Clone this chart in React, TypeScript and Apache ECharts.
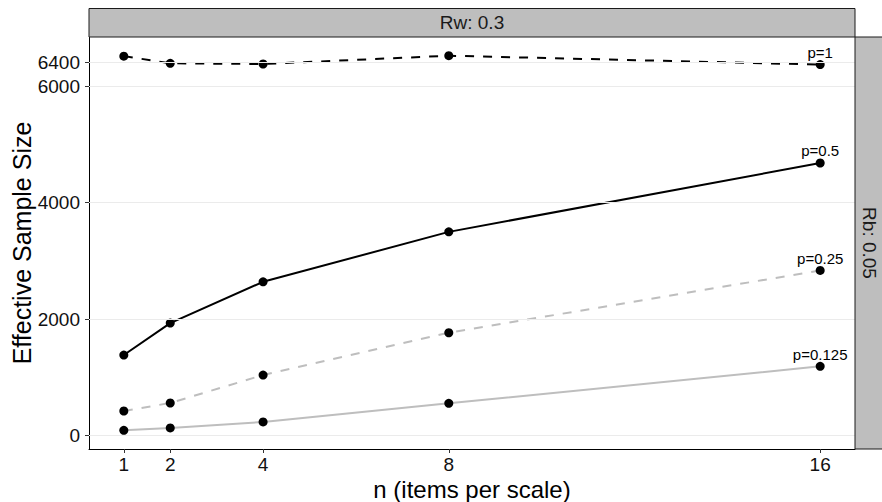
import React, { useEffect, useRef } from "react";
import * as echarts from "echarts";

const nValues = [1, 2, 4, 8, 16];
const pLabels = ["p=1", "p=0.5", "p=0.25", "p=0.125"];
const essP1 = [6513, 6390, 6378, 6520, 6368];
const essP05 = [1383, 1932, 2640, 3497, 4679];
const essP025 = [423, 560, 1040, 1766, 2835];
const essP0125 = [92, 132, 235, 555, 1189];
const yTicks = [0, 2000, 4000, 6000, 6400];
const xTicks = [1, 2, 4, 8, 16];
const stripTop = "Rw: 0.3";
const stripRight = "Rb: 0.05";
const xTitle = "n (items per scale)";
const yTitle = "Effective Sample Size";

const seriesValues = [essP1, essP05, essP025, essP0125];
const seriesStyles = [
  { color: "#000000", type: [9, 9] as any },
  { color: "#000000", type: "solid" as any },
  { color: "#bebebe", type: [9, 9] as any },
  { color: "#bebebe", type: "solid" as any },
];

const FONT = "Liberation Sans, Arial, Helvetica, sans-serif";

export default function App() {
  const ref = useRef<HTMLDivElement>(null);
  useEffect(() => {
    if (!ref.current) return;
    const chart = echarts.init(ref.current, undefined, { renderer: "svg" });

    const all = seriesValues.flat();
    const yMinD = Math.min(...all);
    const yMaxD = Math.max(...all);
    const yPad = (yMaxD - yMinD) * 0.05;
    const xMinD = Math.min(...nValues);
    const xMaxD = Math.max(...nValues);
    const xPad = (xMaxD - xMinD) * 0.05;

    const left = 89;
    const right = 27;
    const top = 37;
    const bottom = 53;
    const W = 882;
    const H = 502;
    const panelRight = W - right;
    const panelBottom = H - bottom;

    const series: any[] = [
      {
        type: "line",
        data: [],
        silent: true,
        z: 1,
        markLine: {
          silent: true,
          symbol: ["none", "none"],
          label: { show: false },
          lineStyle: { color: "#ebebeb", width: 1, type: "solid" },
          data: yTicks.map((v) => ({ yAxis: v })),
        },
      },
    ];
    seriesValues.forEach((vals, si) => {
      series.push({
        type: "line",
        name: pLabels[si],
        z: 3,
        symbol: "circle",
        symbolSize: 9,
        itemStyle: { color: "#000000" },
        lineStyle: { color: seriesStyles[si].color, width: 2, type: seriesStyles[si].type },
        data: nValues.map((n, i) =>
          i === nValues.length - 1
            ? {
                value: [n, vals[i]],
                label: {
                  show: true,
                  position: "top",
                  distance: 0,
                  formatter: pLabels[si],
                  fontSize: 15,
                  fontFamily: FONT,
                  color: "#000000",
                },
              }
            : [n, vals[i]]
        ),
      });
    });

    chart.setOption({
      animation: false,
      backgroundColor: "#ffffff",
      grid: { left, right, top, bottom, containLabel: false },
      xAxis: {
        type: "value",
        min: xMinD - xPad,
        max: xMaxD + xPad,
        axisLine: { show: true, onZero: false, lineStyle: { color: "#000000", width: 1 } },
        axisTick: { show: true, customValues: xTicks, length: 4, lineStyle: { color: "#333333" } },
        axisLabel: {
          customValues: xTicks,
          formatter: (v: number) => String(v),
          fontSize: 19,
          lineHeight: 16,
          fontFamily: FONT,
          color: "#111111",
          margin: 7,
        },
        splitLine: { show: false },
      },
      yAxis: {
        type: "value",
        min: yMinD - yPad,
        max: yMaxD + yPad,
        axisLine: { show: true, onZero: false, lineStyle: { color: "#000000", width: 1 } },
        axisTick: { show: true, customValues: yTicks, length: 4, lineStyle: { color: "#333333" } },
        axisLabel: {
          customValues: yTicks,
          formatter: (v: number) => String(v),
          fontSize: 19,
          lineHeight: 17,
          fontFamily: FONT,
          color: "#111111",
          margin: 9,
        },
        splitLine: { show: false },
      },
      series,
      graphic: [
        {
          type: "rect",
          z: 10,
          shape: { x: left, y: 8.5, width: panelRight - left, height: top - 8.5 },
          style: { fill: "#bebebe", stroke: "#1a1a1a", lineWidth: 1 },
        },
        {
          type: "rect",
          z: 10,
          shape: { x: panelRight, y: top, width: 40, height: panelBottom - top },
          style: { fill: "#bebebe", stroke: "#1a1a1a", lineWidth: 1 },
        },
        {
          type: "text",
          z: 11,
          x: (left + panelRight) / 2,
          y: (8.5 + top) / 2,
          style: {
            text: stripTop,
            fontSize: 19,
            fontFamily: FONT,
            fill: "#1a1a1a",
            align: "center",
            verticalAlign: "middle",
          },
        },
        {
          type: "text",
          z: 11,
          x: panelRight + 14,
          y: (top + panelBottom) / 2,
          rotation: -Math.PI / 2,
          style: {
            text: stripRight,
            fontSize: 19,
            fontFamily: FONT,
            fill: "#1a1a1a",
            align: "center",
            verticalAlign: "middle",
          },
        },
        {
          type: "text",
          z: 11,
          x: 22,
          y: (top + panelBottom) / 2,
          rotation: Math.PI / 2,
          style: {
            text: yTitle,
            fontSize: 25,
            fontFamily: FONT,
            fill: "#000000",
            align: "center",
            verticalAlign: "middle",
          },
        },
        {
          type: "text",
          z: 11,
          x: (left + panelRight) / 2,
          y: 489,
          style: {
            text: xTitle,
            fontSize: 24,
            lineHeight: 20,
            fontFamily: FONT,
            fill: "#000000",
            align: "center",
            verticalAlign: "middle",
          },
        },
      ],
    });

    return () => chart.dispose();
  }, []);

  return (
    <div
      ref={ref}
      style={{ position: "absolute", left: 0, top: 0, width: 882, height: 502 }}
    />
  );
}
